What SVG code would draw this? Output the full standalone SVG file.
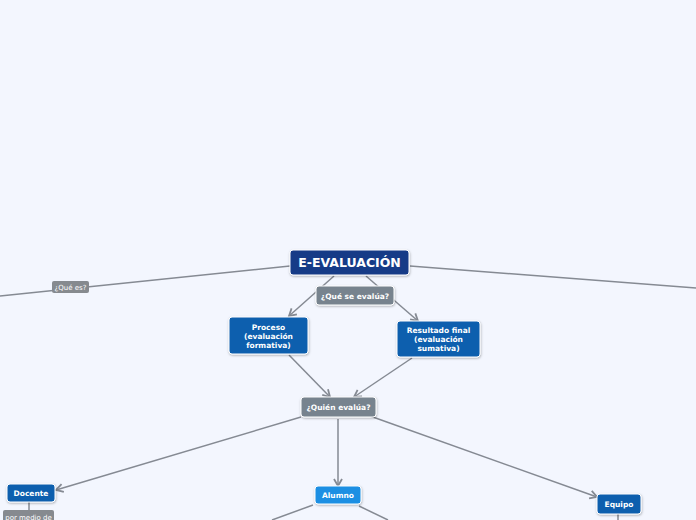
<svg xmlns="http://www.w3.org/2000/svg" width="696" height="520" viewBox="0 0 696 520">
<defs>
<marker id="ah" markerWidth="10" markerHeight="10" refX="8" refY="5" orient="auto" markerUnits="userSpaceOnUse">
<path d="M1,1 L8,5 L1,9" fill="none" stroke="#858a93" stroke-width="1.8"/>
</marker>
<filter id="sh" x="-10%" y="-10%" width="130%" height="140%">
<feDropShadow dx="0.5" dy="1" stdDeviation="0.8" flood-color="#000" flood-opacity="0.3"/>
</filter>
</defs>
<style>
.bg{fill:#f3f6fe}
.c{stroke:#858a93;stroke-width:1.5;fill:none}
.ca{stroke:#858a93;stroke-width:1.5;fill:none;marker-end:url(#ah)}
.n{stroke:#fff;stroke-width:1;filter:url(#sh)}
.t{font-family:"DejaVu Sans",Verdana,sans-serif;font-weight:bold;fill:#fff;text-anchor:middle}
.lt{font-family:"DejaVu Sans",Verdana,sans-serif;fill:#fff;text-anchor:middle;font-size:7px}
</style>
<rect class="bg" x="0" y="0" width="696" height="520"/>
<g id="connectors">
<line class="c" x1="290" y1="266" x2="0" y2="296"/>
<line class="c" x1="410" y1="266" x2="696" y2="288"/>
<line class="ca" x1="334" y1="276" x2="289" y2="316"/>
<line class="ca" x1="366" y1="276" x2="418" y2="321"/>
<line class="ca" x1="289" y1="355" x2="330" y2="397"/>
<line class="ca" x1="412" y1="358" x2="354" y2="397"/>
<line class="ca" x1="301" y1="417" x2="56" y2="490"/>
<line class="ca" x1="338" y1="419" x2="338" y2="486"/>
<line class="ca" x1="370" y1="416" x2="597" y2="497"/>
<line class="c" x1="29" y1="501" x2="29" y2="511"/>
<line class="c" x1="313" y1="505" x2="272" y2="520"/>
<line class="c" x1="359" y1="506" x2="388" y2="520"/>
<line class="c" x1="618" y1="514" x2="618" y2="520"/>
</g>
<g id="lbl-que-es">
<rect x="52" y="281" width="37" height="12" rx="2" fill="#868a8f"/>
<text class="lt" x="70.5" y="290">¿Qué es?</text>
</g>
<g id="root">
<rect class="n" x="290" y="250" width="119" height="25" rx="3" fill="#183b87"/>
<text class="t" x="349.5" y="267" font-size="12.5">E-EVALUACIÓN</text>
</g>
<g id="lbl-que-se-evalua">
<rect class="n" x="316" y="286" width="78" height="19" rx="3" fill="#77838e"/>
<text class="t" x="355" y="298.5" font-size="7.5">¿Qué se evalúa?</text>
</g>
<g id="proceso">
<rect class="n" x="229" y="317" width="79" height="37" rx="3" fill="#105fae"/>
<text class="t" font-size="7.5"><tspan x="268.5" y="330">Proceso</tspan><tspan x="268.5" y="339">(evaluación</tspan><tspan x="268.5" y="348">formativa)</tspan></text>
</g>
<g id="resultado">
<rect class="n" x="397" y="321" width="83" height="36" rx="3" fill="#105fae"/>
<text class="t" font-size="7.5"><tspan x="438.5" y="333">Resultado final</tspan><tspan x="438.5" y="342">(evaluación</tspan><tspan x="438.5" y="351">sumativa)</tspan></text>
</g>
<g id="quien">
<rect class="n" x="301" y="397" width="75" height="20" rx="3" fill="#77838e"/>
<text class="t" x="338.5" y="409.5" font-size="7.5">¿Quién evalúa?</text>
</g>
<g id="docente">
<rect class="n" x="7" y="484" width="48" height="18" rx="3" fill="#105fae"/>
<text class="t" x="31" y="495.5" font-size="7.5">Docente</text>
</g>
<g id="lbl-por-medio">
<rect x="3" y="510" width="51" height="14" rx="2" fill="#868a8f"/>
<text class="lt" x="28.5" y="519.5">por medio de</text>
</g>
<g id="alumno">
<rect class="n" x="315" y="486" width="46" height="18" rx="3" fill="#1b8fe3"/>
<text class="t" x="338" y="497.5" font-size="7.5">Alumno</text>
</g>
<g id="equipo">
<rect class="n" x="597" y="494" width="44" height="20" rx="3" fill="#105fae"/>
<text class="t" x="619" y="506.5" font-size="7.5">Equipo</text>
</g>
</svg>
